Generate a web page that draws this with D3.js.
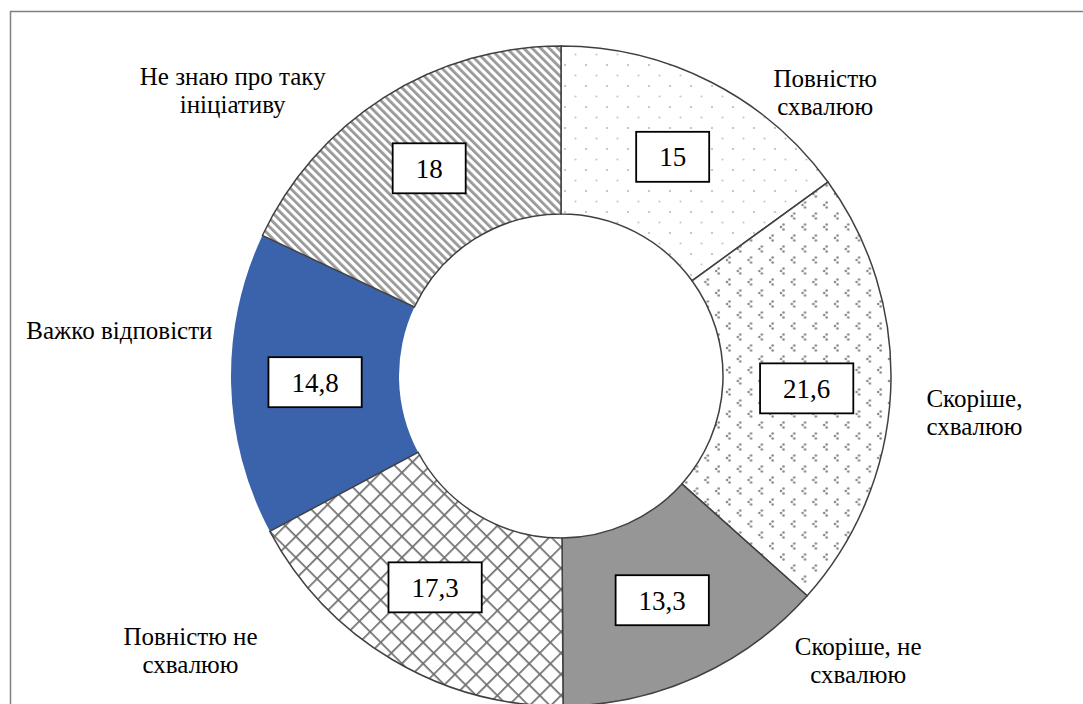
<!DOCTYPE html>
<html>
<head>
<meta charset="utf-8">
<script src="https://cdn.jsdelivr.net/npm/d3@7"></script>
<style>
  body { margin: 0; background: #fff; }
  svg text { font-family: "Liberation Serif", "Times New Roman", Times, "Noto Serif", "DejaVu Serif", serif; }
</style>
</head>
<body>
<svg id="chart" width="1083" height="704"></svg>
<script>
// chart data
var categories = ['Повністю схвалюю', 'Скоріше, схвалюю', 'Скоріше, не схвалюю',
                  'Повністю не схвалюю', 'Важко відповісти', 'Не знаю про таку ініціативу'];
var labelLines = [['Повністю', 'схвалюю'], ['Скоріше,', 'схвалюю'], ['Скоріше, не', 'схвалюю'],
                  ['Повністю не', 'схвалюю'], ['Важко відповісти'], ['Не знаю про таку', 'ініціативу']];
var values = [15, 21.6, 13.3, 17.3, 14.8, 18];
var valueLabels = ['15', '21,6', '13,3', '17,3', '14,8', '18'];

var width = 1083, height = 704;
var cx = 561, cy = 376, outerR = 330, innerR = 162;

var svg = d3.select('#chart');

// frame
svg.append('rect')
  .attr('x', 10.5).attr('y', 11.5)
  .attr('width', 1100).attr('height', 800)
  .attr('fill', 'none').attr('stroke', '#808080').attr('stroke-width', 1.5);

var defs = svg.append('defs');

// dots (Повністю схвалюю)
var p0 = defs.append('pattern').attr('id', 'pat0').attr('patternUnits', 'userSpaceOnUse')
  .attr('width', 21).attr('height', 21);
p0.append('rect').attr('width', 21).attr('height', 21).attr('fill', '#fff');
p0.append('circle').attr('cx', 4).attr('cy', 4).attr('r', 1.1).attr('fill', '#bbb');
p0.append('circle').attr('cx', 14.5).attr('cy', 14.5).attr('r', 1.1).attr('fill', '#c8c8c8');

// small chevrons (Скоріше, схвалюю)
var p1 = defs.append('pattern').attr('id', 'pat1').attr('patternUnits', 'userSpaceOnUse')
  .attr('width', 21.6).attr('height', 22);
p1.append('rect').attr('width', 21.6).attr('height', 22).attr('fill', '#fff');
[[4, 5], [14.8, 16]].forEach(function (o) {
  [[2.5, -2.5], [0, 0], [2.5, 2.5]].forEach(function (d) {
    p1.append('circle').attr('cx', o[0] + d[0]).attr('cy', o[1] + d[1]).attr('r', 1.3).attr('fill', '#8a8a8a');
  });
});

// diamond crosshatch (Повністю не схвалюю)
var p3 = defs.append('pattern').attr('id', 'pat3').attr('patternUnits', 'userSpaceOnUse')
  .attr('width', 15).attr('height', 15).attr('patternTransform', 'rotate(45)');
p3.append('rect').attr('width', 15).attr('height', 15).attr('fill', '#fff');
p3.append('line').attr('x1', 0).attr('y1', 0.8).attr('x2', 15).attr('y2', 0.8)
  .attr('stroke', '#6e6e6e').attr('stroke-width', 1.8);
p3.append('line').attr('x1', 0.8).attr('y1', 0).attr('x2', 0.8).attr('y2', 15)
  .attr('stroke', '#6e6e6e').attr('stroke-width', 1.8);

// diagonal stripes (Не знаю)
var p5 = defs.append('pattern').attr('id', 'pat5').attr('patternUnits', 'userSpaceOnUse')
  .attr('width', 6).attr('height', 6).attr('patternTransform', 'rotate(-45)');
p5.append('rect').attr('width', 6).attr('height', 6).attr('fill', '#fff');
p5.append('rect').attr('width', 2.8).attr('height', 6).attr('fill', '#989898');

var fills = ['url(#pat0)', 'url(#pat1)', '#969696', 'url(#pat3)', '#3b63ac', 'url(#pat5)'];

var pie = d3.pie().sort(null).value(function (d) { return d; });
var arcs = pie(values);

var arc = d3.arc().innerRadius(innerR).outerRadius(outerR);
var midArc = d3.arc().innerRadius((innerR + outerR) / 2).outerRadius((innerR + outerR) / 2);

var g = svg.append('g').attr('transform', 'translate(' + cx + ',' + cy + ')');

// blue slice first so neighbour borders lie over it
var order = [4, 0, 1, 2, 3, 5];
g.selectAll('path.slice')
  .data(order.map(function (i) { return arcs[i]; }))
  .enter().append('path')
  .attr('class', 'slice')
  .attr('d', arc)
  .attr('fill', function (d) { return fills[d.index]; })
  .attr('stroke', function (d) { return d.index === 4 ? 'none' : '#404040'; })
  .attr('stroke-width', 1.5);

// value boxes
var boxes = g.selectAll('g.val').data(arcs).enter().append('g').attr('class', 'val')
  .attr('transform', function (d) {
    var c = midArc.centroid(d);
    return 'translate(' + c[0] + ',' + c[1] + ')';
  });
boxes.each(function (d, i) {
  var b = d3.select(this);
  var t = b.append('text').attr('text-anchor', 'middle').attr('dy', '0.35em')
    .attr('font-size', 27).attr('fill', '#000').text(valueLabels[i]);
  var w = t.node().getComputedTextLength() + 46;
  b.insert('rect', 'text').attr('x', -w / 2).attr('y', -25).attr('width', w).attr('height', 50)
    .attr('fill', '#fff').attr('stroke', '#000').attr('stroke-width', 1.8);
});

// category labels outside the ring: polar nudge and radius per slice
var labelTurn = [15.9, 2.1, -22, 22.7, 7.4, -16.6];
var labelRadius = [388, 415, 411, 461, 444, 435];
var lineH = 28;
arcs.forEach(function (d, i) {
  var a = (d.startAngle + d.endAngle) / 2 + labelTurn[i] * Math.PI / 180;
  var x = Math.sin(a) * labelRadius[i];
  var y = -Math.cos(a) * labelRadius[i];
  var lines = labelLines[i];
  var t = g.append('text').attr('text-anchor', 'middle')
    .attr('font-size', 25).attr('fill', '#000');
  lines.forEach(function (s, k) {
    t.append('tspan').attr('x', x)
      .attr('y', y + (k - (lines.length - 1) / 2) * lineH)
      .attr('dy', '0.35em').text(s);
  });
});
</script>
</body>
</html>
